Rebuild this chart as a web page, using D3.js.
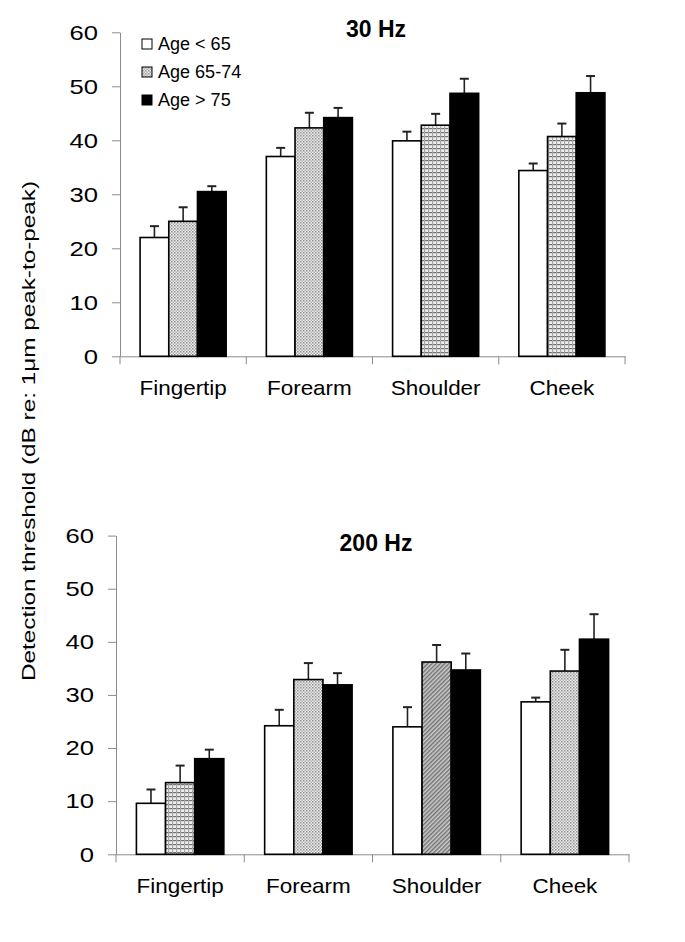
<!DOCTYPE html>
<html>
<head>
<meta charset="utf-8">
<script src="https://cdn.jsdelivr.net/npm/d3@7"></script>
<style>
  html, body { margin: 0; padding: 0; background: #fff; }
  svg { display: block; font-family: "Liberation Sans", Arial, sans-serif; }
</style>
</head>
<body>
<svg id="chart" width="685" height="942"></svg>
<script>
// ---- Data ----
const categories = ["Fingertip", "Forearm", "Shoulder", "Cheek"];
const ageGroups = ["Age < 65", "Age 65-74", "Age > 75"];
const yTicks = [0, 10, 20, 30, 40, 50, 60];

// 30 Hz
const hz30Young = [22.0, 37.0, 39.9, 34.4];
const hz30YoungErr = [2.1, 1.6, 1.7, 1.3];
const hz30Mid = [25.0, 42.3, 42.8, 40.7];
const hz30MidErr = [2.6, 2.8, 2.1, 2.4];
const hz30Old = [30.5, 44.2, 48.7, 48.8];
const hz30OldErr = [1.0, 1.8, 2.7, 3.1];
const hz30MidPattern = ["dots", "dots", "grid", "grid"];

// 200 Hz
const hz200Young = [9.6, 24.2, 24.0, 28.7];
const hz200YoungErr = [2.6, 3.0, 3.7, 0.8];
const hz200Mid = [13.5, 32.9, 36.2, 34.5];
const hz200MidErr = [3.2, 3.1, 3.2, 4.0];
const hz200Old = [18.0, 31.9, 34.7, 40.5];
const hz200OldErr = [1.7, 2.2, 3.1, 4.7];
const hz200MidPattern = ["grid", "dots", "diag", "dots"];

const svg = d3.select("#chart");

function stretch(sel, factor) {
  sel.each(function () {
    const w = this.getComputedTextLength();
    d3.select(this).attr("textLength", w * factor).attr("lengthAdjust", "spacingAndGlyphs");
  });
}

// ---- Patterns ----
const defs = svg.append("defs");
const pDots = defs.append("pattern").attr("id", "dots").attr("patternUnits", "userSpaceOnUse")
  .attr("width", 3).attr("height", 3);
pDots.append("rect").attr("width", 3).attr("height", 3).attr("fill", "#ececec");
pDots.append("rect").attr("x", 0).attr("y", 0).attr("width", 1.5).attr("height", 1.5).attr("fill", "#909090");
pDots.append("rect").attr("x", 1.5).attr("y", 1.5).attr("width", 1.5).attr("height", 1.5).attr("fill", "#b0b0b0");

const pGrid = defs.append("pattern").attr("id", "grid").attr("patternUnits", "userSpaceOnUse")
  .attr("width", 4).attr("height", 4);
pGrid.append("rect").attr("width", 4).attr("height", 4).attr("fill", "#eeeeee");
pGrid.append("rect").attr("x", 0).attr("y", 0).attr("width", 4).attr("height", 1.2).attr("fill", "#707070");
pGrid.append("rect").attr("x", 0).attr("y", 0).attr("width", 1.2).attr("height", 4).attr("fill", "#a8a8a8");

const pDiag = defs.append("pattern").attr("id", "diag").attr("patternUnits", "userSpaceOnUse")
  .attr("width", 3).attr("height", 3).attr("patternTransform", "rotate(45)");
pDiag.append("rect").attr("width", 3).attr("height", 3).attr("fill", "#cccccc");
pDiag.append("rect").attr("x", 0).attr("y", 0).attr("width", 1.4).attr("height", 3).attr("fill", "#707070");

const axisColor = "#8c8c8c";

function drawPanel(opts) {
  const { x0Range, yRange, title, titleY, young, youngErr, mid, midErr, old, oldErr, midPattern, legend } = opts;
  const g = svg.append("g");

  const x0 = d3.scaleBand().domain(categories).range(x0Range).padding(0);
  const x1 = d3.scaleBand().domain(ageGroups).range([0, x0.bandwidth()]).paddingInner(0).paddingOuter(0.7);
  const y = d3.scaleLinear().domain([0, 60]).range(yRange);

  // y axis
  const yAxis = g.append("g").attr("transform", `translate(${x0Range[0]},0)`)
    .call(d3.axisLeft(y).tickValues(yTicks).tickSize(8).tickPadding(14).tickSizeOuter(0));
  yAxis.select(".domain").attr("stroke", axisColor);
  yAxis.selectAll(".tick line").attr("stroke", axisColor);
  const yt = yAxis.selectAll(".tick text").attr("font-size", 21).attr("fill", "#000")
    .attr("font-family", "Liberation Sans, Arial, sans-serif");
  stretch(yt, 1.22);

  // x axis: labels at centers, ticks at band edges
  const xAxis = g.append("g").attr("transform", `translate(0,${yRange[0]})`)
    .call(d3.axisBottom(x0).tickSize(0).tickPadding(24).tickSizeOuter(0));
  xAxis.select(".domain").attr("stroke", axisColor);
  const xt = xAxis.selectAll(".tick text").attr("font-size", 21).attr("fill", "#000")
    .attr("font-family", "Liberation Sans, Arial, sans-serif");
  stretch(xt, 1.07);
  const edges = categories.map(c => x0(c)).concat([x0Range[1]]);
  g.selectAll("line.xedge").data(edges).join("line").attr("class", "xedge")
    .attr("x1", d => d).attr("x2", d => d)
    .attr("y1", yRange[0]).attr("y2", yRange[0] + 8)
    .attr("stroke", axisColor).attr("stroke-width", 1);

  // Bars
  const rows = categories.map((c, i) => ([
    { cat: c, grp: ageGroups[0], v: young[i], e: youngErr[i], fill: "#ffffff" },
    { cat: c, grp: ageGroups[1], v: mid[i], e: midErr[i], fill: `url(#${midPattern[i]})` },
    { cat: c, grp: ageGroups[2], v: old[i], e: oldErr[i], fill: "#000000" }
  ])).flat();

  // error bars (drawn first, behind bars)
  const eb = g.append("g").selectAll("g").data(rows).join("g");
  eb.append("line")
    .attr("x1", d => x0(d.cat) + x1(d.grp) + x1.bandwidth() / 2)
    .attr("x2", d => x0(d.cat) + x1(d.grp) + x1.bandwidth() / 2)
    .attr("y1", d => y(d.v)).attr("y2", d => y(d.v + d.e))
    .attr("stroke", "#222").attr("stroke-width", 1.6);
  eb.append("line")
    .attr("x1", d => x0(d.cat) + x1(d.grp) + x1.bandwidth() / 2 - 4.5)
    .attr("x2", d => x0(d.cat) + x1(d.grp) + x1.bandwidth() / 2 + 4.5)
    .attr("y1", d => y(d.v + d.e)).attr("y2", d => y(d.v + d.e))
    .attr("stroke", "#222").attr("stroke-width", 2);

  g.append("g").selectAll("rect").data(rows).join("rect")
    .attr("x", d => x0(d.cat) + x1(d.grp))
    .attr("y", d => y(d.v))
    .attr("width", x1.bandwidth())
    .attr("height", d => y(0) - y(d.v))
    .attr("fill", d => d.fill)
    .attr("stroke", "#000").attr("stroke-width", 1.6);

  // Title
  g.append("text").attr("x", 376).attr("y", titleY).attr("text-anchor", "middle")
    .attr("font-size", 23).attr("font-weight", "bold").attr("fill", "#000").text(title);

  if (legend) {
    const legFills = ["#ffffff", "url(#dots)", "#000000"];
    const lg = g.append("g").attr("transform", "translate(142,39)");
    const rowsL = lg.selectAll("g").data(ageGroups).join("g")
      .attr("transform", (d, i) => `translate(0,${i * 28})`);
    rowsL.append("rect").attr("width", 10).attr("height", 10)
      .attr("fill", (d, i) => legFills[i]).attr("stroke", "#000").attr("stroke-width", 1);
    const lt = rowsL.append("text").attr("x", 16).attr("y", 11).attr("font-size", 17.5).attr("fill", "#000").text(d => d);
    stretch(lt, 1.03);
  }
}

drawPanel({
  x0Range: [120, 625], yRange: [356.3, 32.3], title: "30 Hz", titleY: 37,
  young: hz30Young, youngErr: hz30YoungErr, mid: hz30Mid, midErr: hz30MidErr,
  old: hz30Old, oldErr: hz30OldErr, midPattern: hz30MidPattern, legend: true
});

drawPanel({
  x0Range: [116, 629], yRange: [854.3, 535.6], title: "200 Hz", titleY: 551,
  young: hz200Young, youngErr: hz200YoungErr, mid: hz200Mid, midErr: hz200MidErr,
  old: hz200Old, oldErr: hz200OldErr, midPattern: hz200MidPattern, legend: false
});

// Shared y-axis label
const yl = svg.append("text")
  .attr("transform", "translate(35,431) rotate(-90)")
  .attr("text-anchor", "middle").attr("font-size", 19).attr("fill", "#000")
  .text("Detection threshold (dB re: 1μm peak-to-peak)");
yl.attr("textLength", 500).attr("lengthAdjust", "spacingAndGlyphs");
</script>
</body>
</html>
